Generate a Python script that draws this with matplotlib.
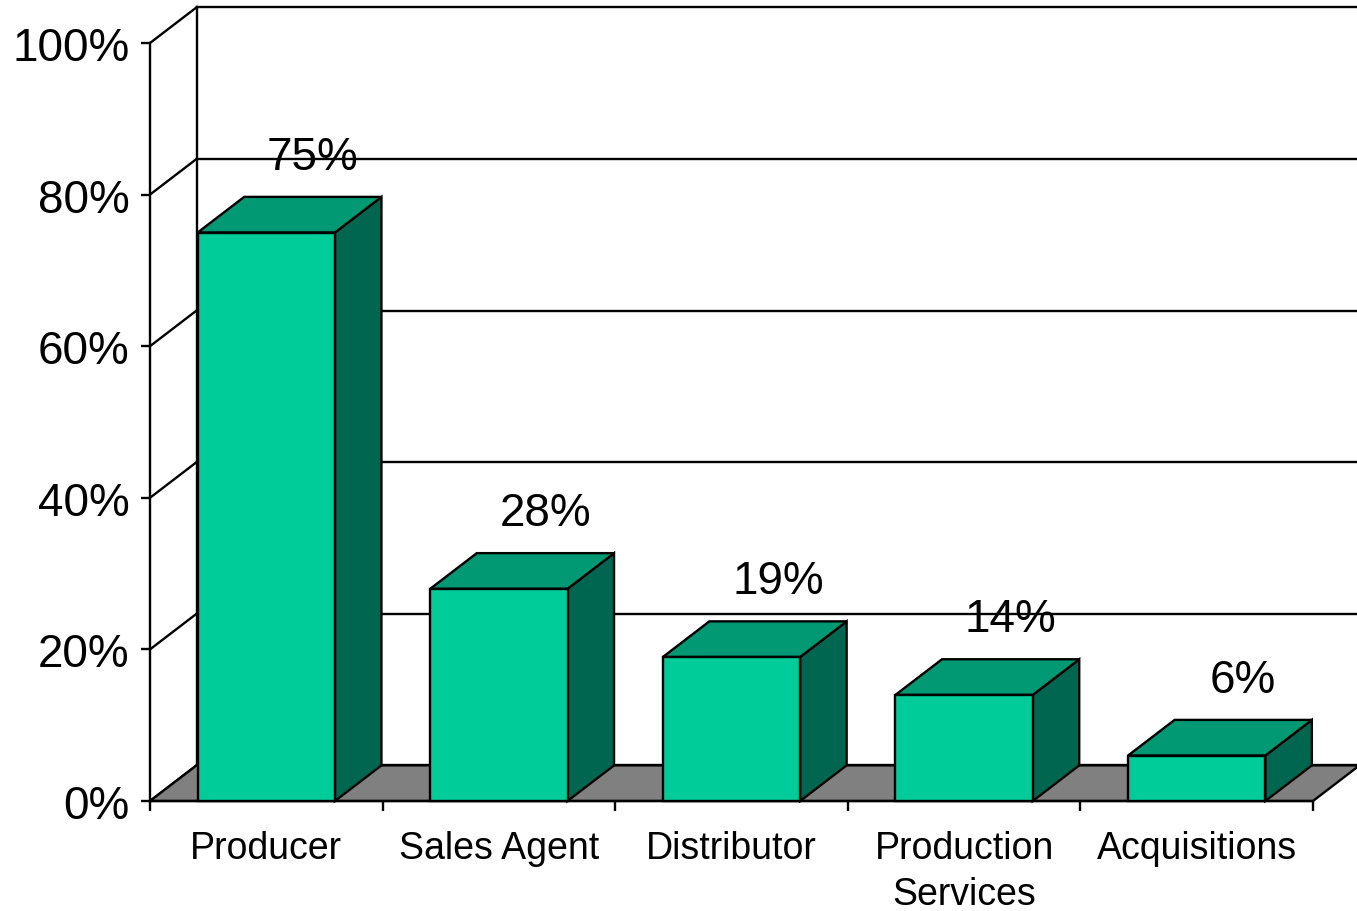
import matplotlib
matplotlib.use("Agg")
import matplotlib.pyplot as plt
from matplotlib.patches import Polygon, Rectangle

# data
categories = ["Producer", "Sales Agent", "Distributor", "Production\nServices", "Acquisitions"]
values = [75, 28, 19, 14, 6]
value_labels = ["75%", "28%", "19%", "14%", "6%"]
y_ticks = [0, 20, 40, 60, 80, 100]
y_tick_labels = ["0%", "20%", "40%", "60%", "80%", "100%"]

# style
front_color = "#00CC99"
top_color = "#009973"
side_color = "#006650"
floor_color = "#808080"
depth_x = 0.2    # 3d depth in category units
depth_y = 4.7    # 3d depth in percent units
bar_w = 0.59
lw = 1.7

plt.rcParams['font.family'] = ['Liberation Sans', 'DejaVu Sans']

fig = plt.figure(figsize=(13.57, 9.12), dpi=100)
ax = fig.add_axes([150/1357, 110/912, 1163/1357, 758/912])
n = len(categories)
ax.set_xlim(0, n)
ax.set_ylim(0, 100)
ax.set_facecolor("none")
ax.spines["top"].set_visible(False)
ax.spines["right"].set_visible(False)
ax.spines["left"].set_linewidth(lw)
ax.spines["bottom"].set_linewidth(lw)

# ticks
ax.set_yticks(y_ticks, y_tick_labels)
ax.tick_params(axis='y', direction='out', length=6.5, width=lw, labelsize=33, pad=8)
ax.set_xticks(range(n + 1), [])
ax.tick_params(axis='x', which='major', direction='out', length=7, width=lw)
ax.set_xticks([i + 0.5 for i in range(n)], categories, minor=True)
ax.tick_params(axis='x', which='minor', length=0, labelsize=27, pad=21)
for lbl in ax.get_xticklabels(minor=True):
    lbl.set_linespacing(1.35)

# back wall + side wall lines
for t in y_ticks:
    ax.plot([depth_x, n + depth_x], [t + depth_y, t + depth_y], color="black", lw=lw, clip_on=False, zorder=1)
    ax.plot([0, depth_x], [t, t + depth_y], color="black", lw=lw, clip_on=False, zorder=1)
ax.plot([depth_x, depth_x], [depth_y, 100 + depth_y], color="black", lw=lw, clip_on=False, zorder=1)

# floor
floor = Polygon([(0, 0), (n, 0), (n + depth_x, depth_y), (depth_x, depth_y)],
                facecolor=floor_color, edgecolor="black", lw=lw, clip_on=False, zorder=2)
ax.add_patch(floor)

# bars
for i, v in enumerate(values):
    x0 = i + 0.5 - bar_w / 2
    x1 = x0 + bar_w
    front = Rectangle((x0, 0), bar_w, v, facecolor=front_color, edgecolor="black", lw=lw, clip_on=False, zorder=3)
    top = Polygon([(x0, v), (x1, v), (x1 + depth_x, v + depth_y), (x0 + depth_x, v + depth_y)],
                  facecolor=top_color, edgecolor="black", lw=lw, clip_on=False, zorder=3)
    side = Polygon([(x1, 0), (x1 + depth_x, depth_y), (x1 + depth_x, v + depth_y), (x1, v)],
                   facecolor=side_color, edgecolor="black", lw=lw, clip_on=False, zorder=3)
    ax.add_patch(side)
    ax.add_patch(top)
    ax.add_patch(front)
    ax.text(i + 0.5 + depth_x, v + 10.0, value_labels[i], ha='center', va='center', fontsize=33, zorder=5)

fig.savefig("out.png", dpi=100)
